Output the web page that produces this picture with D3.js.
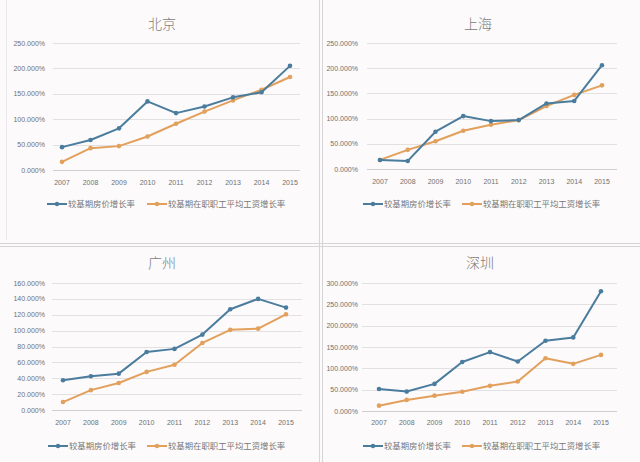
<!DOCTYPE html>
<html><head><meta charset="utf-8">
<script src="https://cdn.jsdelivr.net/npm/d3@7"></script>
<style>
html,body{margin:0;padding:0;background:#fcfafb;}
svg{display:block;font-family:"Noto Sans CJK SC","Liberation Sans",sans-serif;}
</style></head><body>
<svg id="c" width="640" height="462"></svg>
<script>
const years = ["2007","2008","2009","2010","2011","2012","2013","2014","2015"];
const seriesNames = ["较基期房价增长率","较基期在职职工平均工资增长率"];
const cities = ["北京","上海","广州","深圳"];
const bjHouse = [45, 59, 82, 135, 112, 125, 143, 153, 205];
const bjWage  = [16, 43, 47, 66, 91, 115, 137, 158, 183];
const shHouse = [18, 16, 74, 105, 95, 97, 130, 135, 206];
const shWage  = [18, 38, 55, 76, 88, 97, 125, 147, 166];
const gzHouse = [37.5, 42.5, 45.8, 73, 77, 95, 127, 140, 129];
const gzWage  = [10, 25, 34, 48, 57, 84.5, 101, 102.5, 120.5];
const szHouse = [51.5, 45.5, 63.5, 115, 138, 116, 164.5, 172.5, 280.5];
const szWage  = [12.5, 26, 36, 45, 59, 69, 123.5, 110.5, 131.5];
const bjTicks = [0, 50, 100, 150, 200, 250];
const shTicks = [0, 50, 100, 150, 200, 250];
const gzTicks = [0, 20, 40, 60, 80, 100, 120, 140, 160];
const szTicks = [0, 50, 100, 150, 200, 250, 300];

const colors = ["#4a7c9e", "#e2a05c"];
const svg = d3.select("#c");

// panel frames
const frame = svg.append("g").attr("stroke", "#d6d4d6").attr("stroke-width", 1);
frame.append("line").attr("x1", 319.5).attr("x2", 319.5).attr("y1", 0).attr("y2", 462);
frame.append("line").attr("x1", 322.5).attr("x2", 322.5).attr("y1", 0).attr("y2", 462);
frame.append("line").attr("x1", 0).attr("x2", 640).attr("y1", 243.5).attr("y2", 243.5);
frame.append("line").attr("x1", 0).attr("x2", 640).attr("y1", 246.5).attr("y2", 246.5);
frame.append("line").attr("x1", 6.5).attr("x2", 6.5).attr("y1", 0).attr("y2", 240).attr("stroke", "#ebe9eb");

const panels = [
  {title: cities[0], data: [bjHouse, bjWage], ticks: bjTicks, px0: 62, px1: 290, yTop: 43, y0: 170, gx0: 53, gx1: 300, lab: 45, tx: 162, ty: 29, xl: 185, lg: 204, leg: [47, 147]},
  {title: cities[1], data: [shHouse, shWage], ticks: shTicks, px0: 380, px1: 602, yTop: 43, y0: 169, gx0: 367, gx1: 617, lab: 358, tx: 478, ty: 29, xl: 184, lg: 204, leg: [363, 462]},
  {title: cities[2], data: [gzHouse, gzWage], ticks: gzTicks, px0: 63, px1: 286, yTop: 283, y0: 410, gx0: 52, gx1: 302, lab: 45, tx: 162, ty: 268, xl: 425, lg: 446, leg: [48, 147]},
  {title: cities[3], data: [szHouse, szWage], ticks: szTicks, px0: 379, px1: 601, yTop: 283, y0: 411, gx0: 362, gx1: 617, lab: 358, tx: 480, ty: 268, xl: 425, lg: 446, leg: [363, 462]}
];

panels.forEach(p => {
  const g = svg.append("g");
  const x = d3.scalePoint().domain(years).range([p.px0, p.px1]);
  const y = d3.scaleLinear().domain([0, d3.max(p.ticks)]).range([p.y0, p.yTop]);
  g.selectAll("line.grid").data(p.ticks).enter().append("line")
    .attr("x1", p.gx0).attr("x2", p.gx1)
    .attr("y1", d => Math.round(y(d)) + 0.5).attr("y2", d => Math.round(y(d)) + 0.5)
    .attr("stroke", d => d === 0 ? "#cfcfcf" : "#e2e0e2").attr("stroke-width", 1);
  g.selectAll("text.yl").data(p.ticks).enter().append("text")
    .attr("x", p.lab).attr("y", d => y(d) + 2.5)
    .attr("text-anchor", "end").attr("font-size", 7).attr("fill", "#707070")
    .attr("font-family", "Liberation Sans, sans-serif")
    .text(d => d3.format(".3f")(d) + "%");
  g.selectAll("text.xl").data(years).enter().append("text")
    .attr("x", d => x(d)).attr("y", p.xl)
    .attr("text-anchor", "middle").attr("font-size", 7).attr("fill", "#707070")
    .attr("font-family", "Liberation Sans, sans-serif")
    .text(d => d);
  g.append("text").attr("x", p.tx).attr("y", p.ty).attr("text-anchor", "middle")
    .attr("font-size", 14).attr("font-weight", 300).attr("fill", "#7a7a7a").text(p.title);
  [1, 0].forEach(si => {
    const vals = p.data[si];
    const line = d3.line().x((d, i) => x(years[i])).y(d => y(d));
    g.append("path").datum(vals).attr("d", line).attr("fill", "none")
      .attr("stroke", colors[si]).attr("stroke-width", 2).attr("stroke-linejoin", "round");
    g.selectAll("circle.s" + si).data(vals).enter().append("circle")
      .attr("cx", (d, i) => x(years[i])).attr("cy", d => y(d)).attr("r", 2.3)
      .attr("fill", colors[si]);
  });
  seriesNames.forEach((name, si) => {
    const lx = p.leg[si];
    g.append("line").attr("x1", lx).attr("x2", lx + 20).attr("y1", p.lg).attr("y2", p.lg)
      .attr("stroke", colors[si]).attr("stroke-width", 2);
    g.append("circle").attr("cx", lx + 10).attr("cy", p.lg).attr("r", 2.2).attr("fill", colors[si]);
    g.append("text").attr("x", lx + 21).attr("y", p.lg + 3).attr("font-size", 8.4)
      .attr("fill", "#777777").text(name);
  });
});
</script>
</body></html>
